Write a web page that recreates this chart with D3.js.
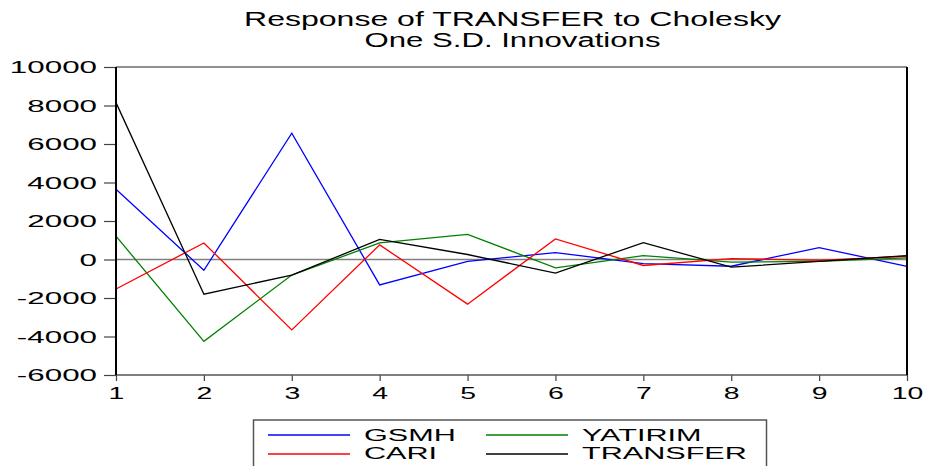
<!DOCTYPE html>
<html>
<head>
<meta charset="utf-8">
<script src="https://cdn.jsdelivr.net/npm/d3@7"></script>
<style>
  html, body { margin: 0; padding: 0; background: #fff; }
  svg { display: block; }
  text { font-family: "Liberation Sans", Arial, sans-serif; fill: #000; }
</style>
</head>
<body>
<svg id="chart" width="928" height="466"></svg>
<script>
// Impulse responses of TRANSFER, periods 1..10
const periods = [1, 2, 3, 4, 5, 6, 7, 8, 9, 10];
const gsmh     = [3650, -560, 6560, -1320, -100, 360, -210, -350, 620, -360];
const yatirim  = [1210, -4250, -810, 860, 1300, -430, 200, -140, -100, 80];
const cari     = [-1530, 860, -3660, 760, -2320, 1070, -310, 50, -50, 170];
const transfer = [8150, -1800, -810, 1040, 260, -710, 880, -400, -100, 200];

const seriesNames  = ["GSMH", "YATIRIM", "CARI", "TRANSFER"];
const seriesColors = ["#0000ff", "#008000", "#ff0000", "#000000"];
const yTicks = [-6000, -4000, -2000, 0, 2000, 4000, 6000, 8000, 10000];
const titleLines = ["Response of TRANSFER to Cholesky", "One S.D. Innovations"];

const series = [gsmh, yatirim, cari, transfer];

const svg = d3.select("#chart");
const L = 116, R = 907, T = 67, B = 375;

const x = d3.scaleLinear().domain([1, 10]).range([L, R]);
const y = d3.scaleLinear().domain([-6000, 10000]).range([B, T]);

// widen glyphs horizontally while keeping the anchor point
function stretch(sel, k) {
  sel.each(function () {
    const t = d3.select(this);
    const ox = +t.attr("x") || 0;
    t.attr("x", ox / k).attr("transform", `scale(${k},1)`);
  });
}

// title, two centred lines
svg.append("g").selectAll("text").data(titleLines).join("text")
  .attr("x", 512.5)
  .attr("y", (d, i) => i === 0 ? 26 : 47)
  .attr("text-anchor", "middle")
  .style("font-size", "19.5px")
  .attr("textLength", (d, i) => i === 0 ? 537 : 296)
  .attr("lengthAdjust", "spacingAndGlyphs")
  .text(d => d);

// y axis
const yAxis = svg.append("g")
  .attr("transform", `translate(${L},0)`)
  .call(d3.axisLeft(y).tickValues(yTicks).tickSize(12).tickPadding(7)
        .tickFormat(d3.format("d")));
yAxis.select(".domain").remove();
yAxis.selectAll(".tick line").attr("stroke", "#444").attr("stroke-width", 1.2);
yAxis.selectAll(".tick text")
  .style("font-size", "16.5px")
  .attr("dy", "0.36em")
  .text(d => String(d))
  .call(stretch, 1.9);

// x axis
const xAxis = svg.append("g")
  .attr("transform", `translate(0,${B})`)
  .call(d3.axisBottom(x).tickValues(periods).tickSize(6).tickPadding(6)
        .tickFormat(d3.format("d")));
xAxis.select(".domain").remove();
xAxis.selectAll(".tick line").attr("stroke", "#444").attr("stroke-width", 1.2);
xAxis.selectAll(".tick text")
  .style("font-size", "16.5px")
  .attr("dy", "0.72em")
  .call(stretch, 1.72);

// zero line
svg.append("line")
  .attr("x1", L).attr("x2", R).attr("y1", y(0)).attr("y2", y(0))
  .attr("stroke", "#808080").attr("stroke-width", 1.5);

// series lines
const line = d3.line().x((d, i) => x(periods[i])).y(d => y(d));
svg.append("g").selectAll("path").data(series).join("path")
  .attr("d", d => line(d))
  .attr("fill", "none")
  .attr("stroke", (d, i) => seriesColors[i])
  .attr("stroke-width", 1.3)
  .attr("stroke-linejoin", "miter");

// frame
svg.append("line").attr("x1", L).attr("x2", R).attr("y1", T).attr("y2", T)
  .attr("stroke", "#222").attr("stroke-width", 1.2);
svg.append("line").attr("x1", L).attr("x2", R).attr("y1", B).attr("y2", B)
  .attr("stroke", "#555").attr("stroke-width", 1.5);
svg.append("line").attr("x1", L).attr("x2", L).attr("y1", T).attr("y2", B)
  .attr("stroke", "#000").attr("stroke-width", 2);
svg.append("line").attr("x1", R).attr("x2", R).attr("y1", T).attr("y2", B)
  .attr("stroke", "#000").attr("stroke-width", 2);

// legend
const leg = svg.append("g");
leg.append("rect")
  .attr("x", 253.5).attr("y", 420).attr("width", 513).attr("height", 60)
  .attr("fill", "#fff").attr("stroke", "#555").attr("stroke-width", 1.5);
const legPos = [
  { lx: 268, tx: 364, ly: 435, ty: 441 },
  { lx: 486, tx: 582, ly: 435, ty: 441 },
  { lx: 268, tx: 364, ly: 454, ty: 459 },
  { lx: 486, tx: 582, ly: 454, ty: 459 }
];
seriesNames.forEach((name, i) => {
  const p = legPos[i];
  leg.append("line")
    .attr("x1", p.lx).attr("x2", p.lx + 82).attr("y1", p.ly).attr("y2", p.ly)
    .attr("stroke", seriesColors[i]).attr("stroke-width", 1.3);
  leg.append("text")
    .attr("x", p.tx).attr("y", p.ty)
    .style("font-size", "17px")
    .text(name)
    .call(stretch, 1.8);
});
</script>
</body>
</html>
